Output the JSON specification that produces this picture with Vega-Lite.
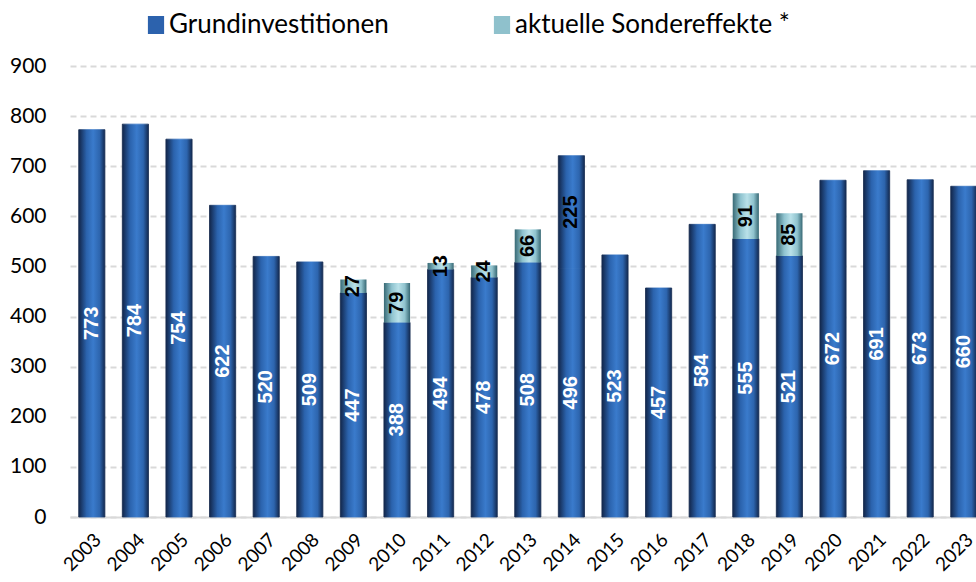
{
  "$schema": "https://vega.github.io/schema/vega-lite/v6.json",
  "width": 906,
  "height": 451,
  "autosize": {"type": "none"},
  "padding": {"left": 70, "top": 66, "right": 0, "bottom": 65},
  "background": "white",
  "config": {"view": {"stroke": null}, "font": "Lato"},
  "data": {
    "values": [
      {"Jahr": "2003", "Teil": "Grundinvestitionen", "Wert": 773},
      {"Jahr": "2004", "Teil": "Grundinvestitionen", "Wert": 784},
      {"Jahr": "2005", "Teil": "Grundinvestitionen", "Wert": 754},
      {"Jahr": "2006", "Teil": "Grundinvestitionen", "Wert": 622},
      {"Jahr": "2007", "Teil": "Grundinvestitionen", "Wert": 520},
      {"Jahr": "2008", "Teil": "Grundinvestitionen", "Wert": 509},
      {"Jahr": "2009", "Teil": "Grundinvestitionen", "Wert": 447},
      {"Jahr": "2010", "Teil": "Grundinvestitionen", "Wert": 388},
      {"Jahr": "2011", "Teil": "Grundinvestitionen", "Wert": 494},
      {"Jahr": "2012", "Teil": "Grundinvestitionen", "Wert": 478},
      {"Jahr": "2013", "Teil": "Grundinvestitionen", "Wert": 508},
      {"Jahr": "2014", "Teil": "Grundinvestitionen", "Wert": 496},
      {"Jahr": "2015", "Teil": "Grundinvestitionen", "Wert": 523},
      {"Jahr": "2016", "Teil": "Grundinvestitionen", "Wert": 457},
      {"Jahr": "2017", "Teil": "Grundinvestitionen", "Wert": 584},
      {"Jahr": "2018", "Teil": "Grundinvestitionen", "Wert": 555},
      {"Jahr": "2019", "Teil": "Grundinvestitionen", "Wert": 521},
      {"Jahr": "2020", "Teil": "Grundinvestitionen", "Wert": 672},
      {"Jahr": "2021", "Teil": "Grundinvestitionen", "Wert": 691},
      {"Jahr": "2022", "Teil": "Grundinvestitionen", "Wert": 673},
      {"Jahr": "2023", "Teil": "Grundinvestitionen", "Wert": 660},
      {"Jahr": "2009", "Teil": "aktuelle Sondereffekte *", "Wert": 27},
      {"Jahr": "2010", "Teil": "aktuelle Sondereffekte *", "Wert": 79},
      {"Jahr": "2011", "Teil": "aktuelle Sondereffekte *", "Wert": 13},
      {"Jahr": "2012", "Teil": "aktuelle Sondereffekte *", "Wert": 24},
      {"Jahr": "2013", "Teil": "aktuelle Sondereffekte *", "Wert": 66},
      {"Jahr": "2014", "Teil": "Sondereffekte 2014", "Wert": 225},
      {"Jahr": "2018", "Teil": "aktuelle Sondereffekte *", "Wert": 91},
      {"Jahr": "2019", "Teil": "aktuelle Sondereffekte *", "Wert": 85}
    ]
  },
  "transform": [
    {"stack": "Wert", "groupby": ["Jahr"], "sort": [{"field": "Teil", "order": "ascending"}], "as": ["y0", "y1"]},
    {"calculate": "(datum.y0 + datum.y1) / 2", "as": "mitte"}
  ],
  "encoding": {
    "x": {
      "field": "Jahr",
      "type": "ordinal",
      "scale": {"range": [0, 915.6], "paddingInner": 0.4, "paddingOuter": 0.2},
      "axis": {
        "title": null,
        "labelAngle": -45,
        "labelFontSize": 19,
        "labelColor": "#000000",
        "labelPadding": 13,
        "labelDx": -8,
        "ticks": false,
        "domainColor": "#d9d9d9",
        "domainWidth": 2
      }
    }
  },
  "layer": [
    {
      "transform": [{"filter": "datum.Teil !== 'aktuelle Sondereffekte *'"}],
      "mark": {
        "type": "bar",
        "strokeWidth": 0.8,
        "stroke": {
          "gradient": "linear", "x1": 0, "x2": 1, "y1": 0, "y2": 0,
          "stops": [
            {"offset": 0, "color": "#12264a"},
            {"offset": 0.3, "color": "#2b63ad"},
            {"offset": 0.55, "color": "#3a7bcc"},
            {"offset": 0.8, "color": "#2d65ae"},
            {"offset": 1, "color": "#13294f"}
          ]
        },
        "fill": {
          "gradient": "linear", "x1": 0, "x2": 1, "y1": 0, "y2": 0,
          "stops": [
            {"offset": 0, "color": "#12264a"},
            {"offset": 0.3, "color": "#2b63ad"},
            {"offset": 0.55, "color": "#3a7bcc"},
            {"offset": 0.8, "color": "#2d65ae"},
            {"offset": 1, "color": "#13294f"}
          ]
        }
      },
      "encoding": {
        "y": {
          "field": "y1",
          "type": "quantitative",
          "scale": {"domain": [0, 900], "nice": false},
          "axis": {
            "title": null,
            "values": [0, 100, 200, 300, 400, 500, 600, 700, 800, 900],
            "labelFontSize": 21,
            "labelColor": "#000000",
            "labelPadding": 24,
            "ticks": false,
            "domain": false,
            "grid": true,
            "gridColor": "#d9d9d9",
            "gridWidth": 2,
            "gridDash": [6, 4]
          }
        },
        "y2": {"field": "y0"}
      }
    },
    {
      "transform": [{"filter": "datum.Teil === 'aktuelle Sondereffekte *'"}],
      "mark": {
        "type": "bar",
        "fill": {
          "gradient": "linear", "x1": 0, "x2": 1, "y1": 0, "y2": 0,
          "stops": [
            {"offset": 0, "color": "#386a75"},
            {"offset": 0.3, "color": "#8fc3cf"},
            {"offset": 0.55, "color": "#b9e1e9"},
            {"offset": 0.8, "color": "#8fc2cd"},
            {"offset": 1, "color": "#376874"}
          ]
        }
      },
      "encoding": {
        "y": {"field": "y1", "type": "quantitative"},
        "y2": {"field": "y0"}
      }
    },
    {
      "transform": [{"filter": "datum.Teil !== 'Sondereffekte 2014'"}],
      "mark": {"type": "bar", "opacity": 0},
      "encoding": {
        "y": {"field": "y1", "type": "quantitative"},
        "y2": {"field": "y0"},
        "color": {
          "field": "Teil",
          "type": "nominal",
          "scale": {"domain": ["Grundinvestitionen", "aktuelle Sondereffekte *"], "range": ["#2c62ad", "#8fc1cc"]},
          "legend": {
            "title": null,
            "orient": "none",
            "direction": "horizontal",
            "legendX": 73,
            "legendY": -54,
            "padding": 0,
            "symbolType": "M-0.9,-1H0.9V1H-0.9Z",
            "symbolSize": 324,
            "symbolOpacity": 1,
            "symbolStrokeWidth": 0,
            "labelFontSize": 26,
            "labelColor": "#000000",
            "labelOffset": 0,
            "labelLimit": 400,
            "columnPadding": 100
          }
        }
      }
    },
    {
      "mark": {"type": "text", "angle": 270, "align": "center", "baseline": "middle", "font": "Liberation Sans", "fontWeight": "bold", "fontSize": 20},
      "encoding": {
        "y": {"field": "mitte", "type": "quantitative"},
        "text": {"field": "Wert", "type": "quantitative"},
        "color": {
          "condition": {"test": "datum.Teil === 'Grundinvestitionen'", "value": "#ffffff"},
          "value": "#000000"
        }
      }
    }
  ]
}
